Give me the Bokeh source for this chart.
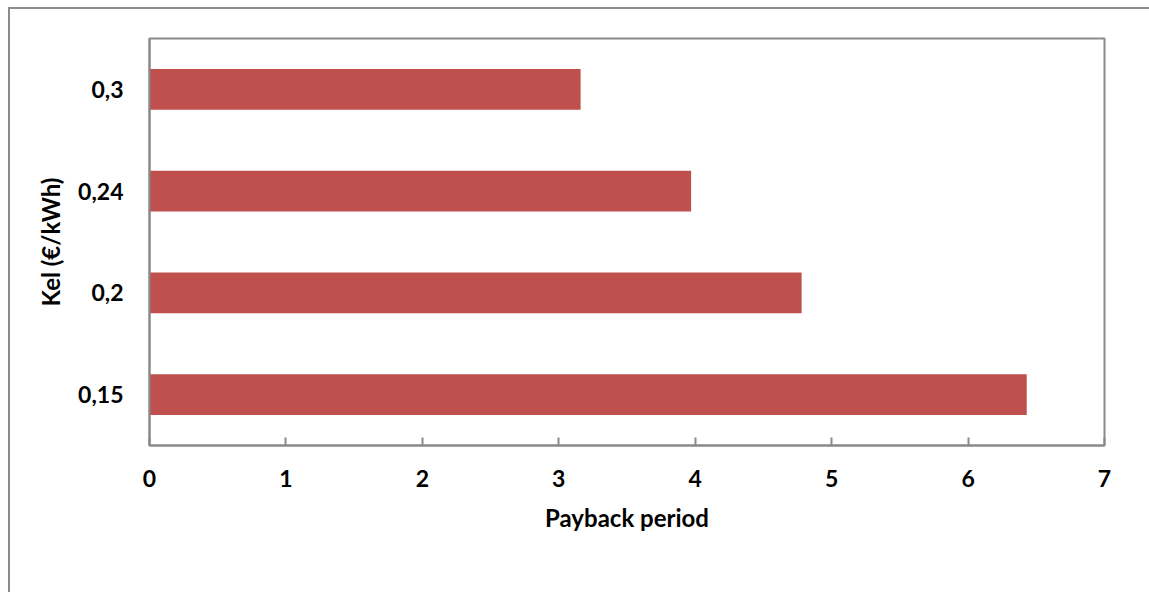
from bokeh.plotting import figure
from bokeh.models import FactorRange, Range1d, FixedTicker, ColumnDataSource
from bokeh.embed import file_html
from bokeh.resources import INLINE

# Data
categories = ["0,15", "0,2", "0,24", "0,3"]
payback = [6.43, 4.78, 3.97, 3.16]
x_ticks = [0, 1, 2, 3, 4, 5, 6, 7]

BAR = "#C0504D"
GRAY = "#898989"
FONT = "Lato"

src = ColumnDataSource(data=dict(cat=categories, val=payback))

p = figure(
    width=1141, height=585,
    y_range=FactorRange(factors=categories, range_padding=0),
    x_range=Range1d(0, 7),
    output_backend="svg", toolbar_location=None,
    min_border_left=139, min_border_right=47,
    min_border_top=29, min_border_bottom=149,
)
p.hbar(y="cat", left=0, right="val", height=0.4, source=src,
       fill_color=BAR, line_color=None)

p.background_fill_color = "white"
p.border_fill_color = "white"
p.outline_line_color = GRAY
p.outline_line_width = 2
p.xgrid.grid_line_color = None
p.ygrid.grid_line_color = None

p.xaxis.ticker = FixedTicker(ticks=x_ticks)
p.xaxis.axis_line_color = GRAY
p.xaxis.axis_line_width = 2
p.xaxis.major_tick_line_color = GRAY
p.xaxis.major_tick_line_width = 2
p.xaxis.major_tick_in = 8
p.xaxis.major_tick_out = 0
p.xaxis.minor_tick_line_color = None
p.xaxis.major_label_standoff = 24
p.xaxis.axis_label = "Payback period"
p.xaxis.axis_label_standoff = 13

p.yaxis.axis_line_color = GRAY
p.yaxis.axis_line_width = 2
p.yaxis.major_tick_line_color = None
p.yaxis.minor_tick_line_color = None
p.yaxis.major_label_standoff = 20
p.yaxis.axis_label = "Kel (€/kWh)"
p.yaxis.axis_label_standoff = 10

for ax in (p.xaxis, p.yaxis):
    ax.major_label_text_font = FONT
    ax.major_label_text_font_style = "bold"
    ax.major_label_text_font_size = "23px"
    ax.major_label_text_color = "black"
    ax.axis_label_text_font = FONT
    ax.axis_label_text_font_style = "bold"
    ax.axis_label_text_font_size = "24px"
    ax.axis_label_text_color = "black"

p.styles = {"border-left": "2px solid #8c8c8c", "border-top": "2px solid #8c8c8c",
            "box-sizing": "border-box", "margin-left": "8px", "margin-top": "7px"}

open("out.html", "w").write(file_html(p, INLINE))
